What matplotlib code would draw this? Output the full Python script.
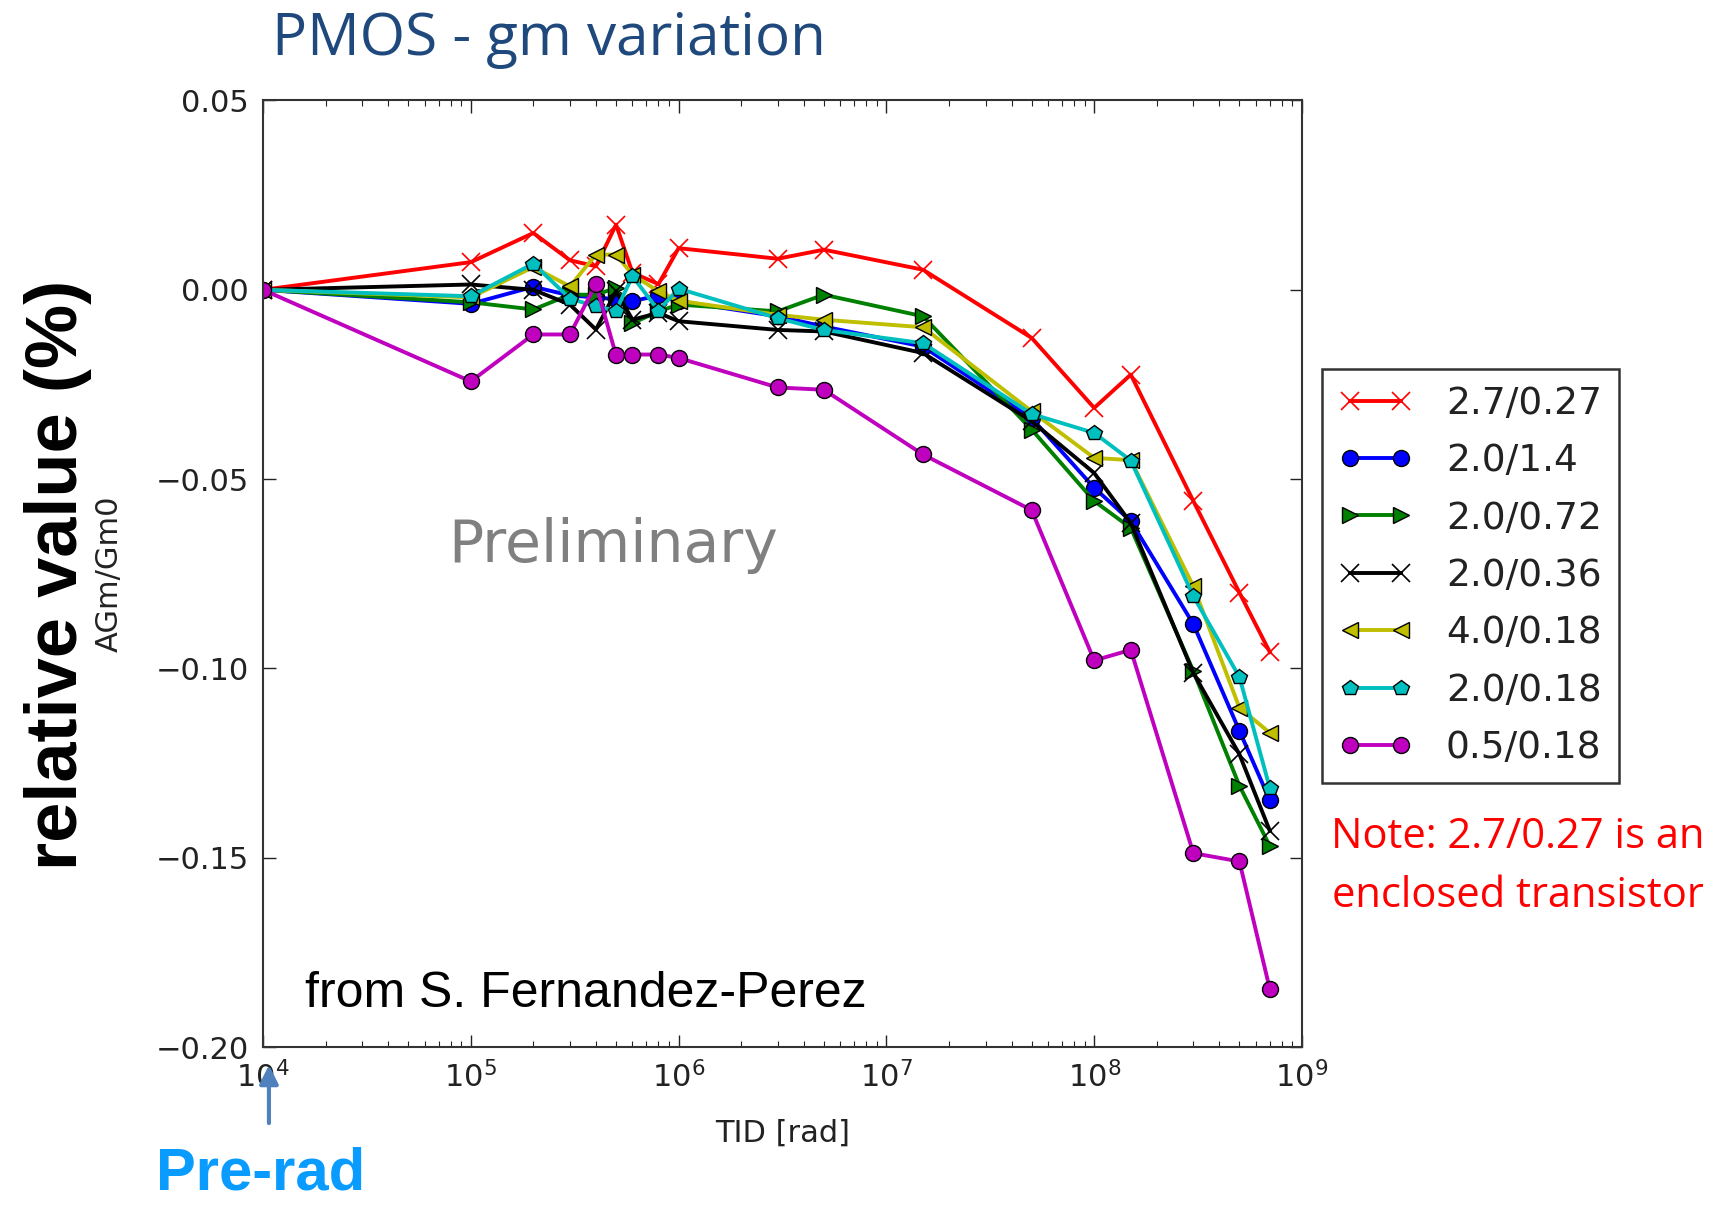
import matplotlib
matplotlib.use('Agg')
import matplotlib.pyplot as plt
from matplotlib import font_manager
from matplotlib.font_manager import FontProperties

# ---------------- data ----------------
tid = [1e4, 1e5, 2e5, 3e5, 4e5, 5e5, 6e5, 8e5, 1e6, 3e6, 5e6, 1.5e7,
       5e7, 1e8, 1.5e8, 3e8, 5e8, 7e8]

labels = ['2.7/0.27', '2.0/1.4', '2.0/0.72', '2.0/0.36', '4.0/0.18',
          '2.0/0.18', '0.5/0.18']

s_27_027 = [0, 0.0073, 0.015, 0.0078, 0.0062, 0.0172, 0.0045, 0.0015, 0.011,
            0.0082, 0.0106, 0.0053, -0.0127, -0.0312, -0.0224, -0.0558,
            -0.080, -0.0957]
s_20_14 = [0, -0.0037, 0.0008, -0.0015, -0.002, -0.0025, -0.003, -0.0015,
           -0.003, -0.007, -0.0097, -0.015, -0.0339, -0.0523, -0.0611,
           -0.0883, -0.1165, -0.1348]
s_20_072 = [0, -0.0033, -0.0052, -0.0013, -0.0013, 0.0005, -0.0088, -0.0057,
            -0.0039, -0.0057, -0.0013, -0.007, -0.0369, -0.0558, -0.0629,
            -0.1007, -0.131, -0.1469]
s_20_036 = [0, 0.0014, 0.0, -0.0039, -0.0105, -0.0004, -0.0079, -0.0061,
            -0.0083, -0.0106, -0.011, -0.0167, -0.0347, -0.0484, -0.0616,
            -0.1012, -0.1227, -0.1429]
s_40_018 = [0, -0.002, 0.006, 0.0009, 0.0093, 0.0093, 0.004, -0.0004,
            -0.0029, -0.0066, -0.0079, -0.0099, -0.0321, -0.0444, -0.045,
            -0.0783, -0.1104, -0.117]
s_20_018 = [0, -0.0017, 0.0069, -0.0023, -0.0044, -0.0055, 0.0036, -0.0055,
            0.0003, -0.0075, -0.0106, -0.0141, -0.0328, -0.0378, -0.0451,
            -0.0809, -0.1023, -0.1316]
s_05_018 = [0, -0.0242, -0.0118, -0.0118, 0.0015, -0.0173, -0.0171, -0.0171,
            -0.018, -0.0258, -0.0264, -0.0435, -0.0582, -0.0979, -0.0951,
            -0.1488, -0.151, -0.1847]

series = [s_27_027, s_20_14, s_20_072, s_20_036, s_40_018, s_20_018, s_05_018]

y_ticks = [0.05, 0.00, -0.05, -0.10, -0.15, -0.20]

# ---------------- styles ----------------
colors = ['#ff0000', '#0000ff', '#008000', '#000000', '#bfbf00', '#00bfbf', '#bf00bf']
markers = ['x', 'o', '>', 'x', '<', 'p', 'o']


def has_font(name):
    try:
        font_manager.findfont(FontProperties(family=name), fallback_to_default=False)
        return True
    except Exception:
        return False


narrow = has_font('Liberation Sans Narrow')
narrow_family = ['Liberation Sans Narrow', 'DejaVu Sans'] if narrow else ['Liberation Sans', 'DejaVu Sans']
big_size = 63 if narrow else 52
pre_size = 52 if narrow else 43

plt.rcParams['font.family'] = ['DejaVu Sans']
plt.rcParams['mathtext.fontset'] = 'dejavusans'

fig = plt.figure(figsize=(17.13, 12.05), dpi=100)
ax = fig.add_axes([0.15353, 0.13112, 0.60654, 0.78548])

for vals, lab, c, m in zip(series, labels, colors, markers):
    if m == 'x':
        ax.plot(tid, vals, color=c, lw=2.8, marker=m, ms=13, mew=1.2,
                mec=c, label=lab)
    else:
        ax.plot(tid, vals, color=c, lw=2.8, marker=m, ms=11.5, mew=1.0,
                mec='black', mfc=c, label=lab)

ax.set_xscale('log')
ax.set_xlim(1e4, 1e9)
ax.set_ylim(-0.20, 0.05)
ax.set_yticks(y_ticks)

ax.tick_params(which='both', direction='in', top=True, right=True,
               labelsize=22, colors='#222222')
ax.tick_params(which='major', length=9, width=1.0, pad=10)
ax.tick_params(which='minor', length=4.5, width=0.8)
for sp in ax.spines.values():
    sp.set_linewidth(1.5)
    sp.set_color('#333333')

ax.set_xlabel('TID [rad]', fontsize=22, color='#222222')
ax.xaxis.set_label_coords(0.5, -0.076)
ax.set_ylabel('AGm/Gm0', fontsize=22, color='#222222')
ax.yaxis.set_label_coords((124 - 263) / 1039.0, 0.5)

ax.text(0.178, 0.512, 'Preliminary', transform=ax.transAxes, fontsize=42,
        color='#808080', ha='left', va='baseline')
ax.text(0.040, 0.042, 'from S. Fernandez-Perez', transform=ax.transAxes,
        fontsize=36, family=['Liberation Sans', 'DejaVu Sans'],
        color='black', ha='left', va='baseline')

leg = fig.legend(loc='upper left', bbox_to_anchor=(0.7718, 0.6938),
                 bbox_transform=fig.transFigure, borderaxespad=0,
                 fontsize=27, numpoints=2, handlelength=1.95,
                 handletextpad=0.9, labelspacing=0.57, borderpad=0.45,
                 fancybox=False, framealpha=1)
leg.get_frame().set_edgecolor('#333333')
leg.get_frame().set_linewidth(1.8)
for t in leg.get_texts():
    t.set_color('#222222')

# Title and annotations
fig.text(0.3205, 0.9544, 'PMOS - gm variation', fontsize=42,
         family=['Open Sans', 'DejaVu Sans'], color='#1F497D',
         ha='center', va='baseline')
fig.text(0.034, 0.523, 'relative value (%)', fontsize=big_size,
         family=narrow_family, fontweight='bold', rotation=90,
         ha='center', va='center', color='black')
fig.text(0.886, 0.2963, 'Note: 2.7/0.27 is an', fontsize=30,
         family=['Open Sans', 'DejaVu Sans'], color='#ff0000',
         ha='center', va='baseline')
fig.text(0.886, 0.2473, 'enclosed transistor', fontsize=30,
         family=['Open Sans', 'DejaVu Sans'], color='#ff0000',
         ha='center', va='baseline')
fig.text(0.091, 0.013, 'Pre-rad', fontsize=pre_size, family=narrow_family,
         fontweight='bold', color='#0A9BFF', ha='left', va='baseline')
ax.annotate('', xy=(0.157, 0.1162), xycoords='figure fraction',
            xytext=(0.157, 0.068), textcoords='figure fraction',
            arrowprops=dict(arrowstyle='-|>', color='#4F81BD', lw=3,
                            mutation_scale=28, shrinkA=0, shrinkB=0),
            annotation_clip=False)

fig.savefig('out.png', dpi=100)
